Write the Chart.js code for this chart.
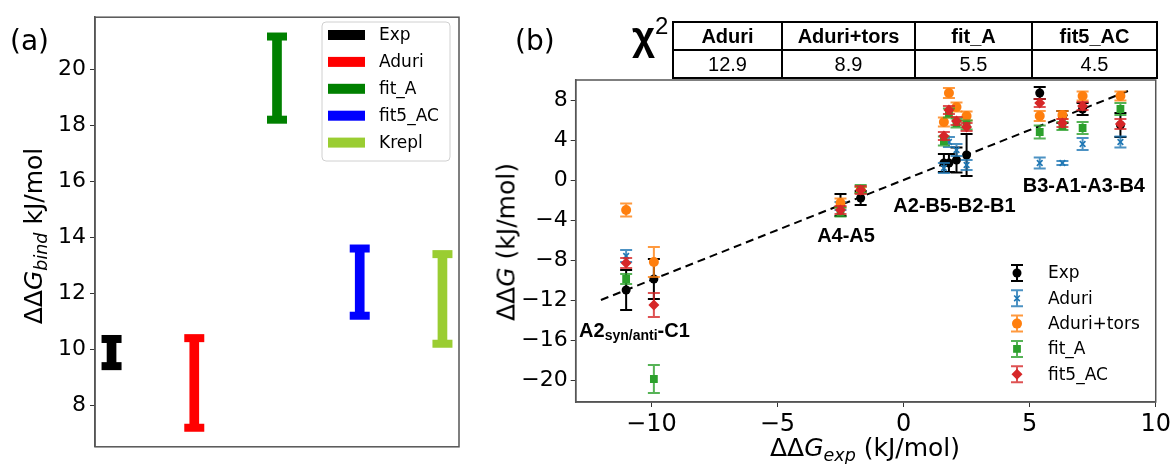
<!DOCTYPE html>
<html>
<head>
<meta charset="utf-8">
<script src="https://cdn.jsdelivr.net/npm/chart.js@4.4.1/dist/chart.umd.min.js"></script>
<style>
  body { margin: 0; background: #fff; }
  #wrap { position: relative; width: 1174px; height: 464px; overflow: hidden; font-family: 'DejaVu Sans', sans-serif; color: #000; }
  canvas { position: absolute; top: 0; }
  #chartA { left: 0; }
  #chartB { left: 480px; }
  .lbl { position: absolute; white-space: nowrap; }
  .panel { font-size: 28px; line-height: 28px; }
  .ytitle { transform: translate(-50%, -50%) rotate(-90deg); font-size: 25px; line-height: 25px; }
  .xtitle { transform: translate(-50%, -50%); font-size: 25px; line-height: 25px; }
  .sub { font-size: 0.7em; font-style: italic; position: relative; top: 0.3em; }
  #chi { left: 632px; top: 14px; font: bold 40px 'Liberation Sans', Arial, sans-serif; }
  #chi sup { font-size: 0.6em; font-weight: normal; position: relative; top: -0.1em; }
  #chiTable { position: absolute; left: 672px; top: 21px; border-collapse: collapse;
    font-family: 'Liberation Sans', Arial, sans-serif; font-size: 20px; }
  #chiTable td { border: 2px solid #000; text-align: center; padding: 0; height: 26px; line-height: 26px; }
  #chiTable tr:first-child td { font-weight: bold; }
</style>
</head>
<body>
<div id="wrap">
  <canvas id="chartA" width="480" height="464"></canvas>
  <canvas id="chartB" width="694" height="464"></canvas>
  <div class="lbl panel" style="left:10px; top:27px;">(a)</div>
  <div class="lbl panel" style="left:515px; top:27px;">(b)</div>
  <div class="lbl ytitle" style="left:35px; top:236px;">ΔΔ<i>G</i><span class="sub">bind</span> kJ/mol</div>
  <div class="lbl ytitle" style="left:506px; top:242px;">ΔΔ<i>G</i> (kJ/mol)</div>
  <div class="lbl xtitle" style="left:865px; top:449px;">ΔΔ<i>G</i><span class="sub">exp</span> (kJ/mol)</div>
  <div class="lbl" id="chi">χ<sup>2</sup></div>
  <table id="chiTable"><tr id="chiHead"></tr><tr id="chiVals"></tr></table>
</div>
<script>
// panel (a): range of binding free energy per method
const methodsA = ['Exp', 'Aduri', 'fit_A', 'fit5_AC', 'Krepl'];
const lowA = [9.4, 7.2, 18.2, 11.2, 10.2];
const highA = [10.37, 10.4, 21.17, 13.6, 13.4];
const yTicksA = [8, 10, 12, 14, 16, 18, 20];

// panel (b): computed vs experimental ddG
const seriesB = ['Exp', 'Aduri', 'Aduri+tors', 'fit_A', 'fit5_AC'];
const ddgExp = [-11.0, -9.9, -2.5, -1.7, 1.6, 1.8, 2.1, 2.5, 5.4, 6.3, 7.1, 8.6];
const expY = [-11.0, -9.9, -2.5, -1.8, 1.7, 1.7, 2.0, 2.5, 8.7, 6.3, 7.1, 5.5];
const expErr = [2.0, 2.0, 1.1, 0.7, 0.9, 0.9, 1.25, 2.1, 0.6, 0.6, 0.6, 1.2];
const aduriY = [-7.6, null, -2.6, -1.0, 1.2, 3.8, 3.0, 1.5, 1.7, 1.7, 3.6, 3.8];
const aduriErr = [0.6, 0, 0.4, 0.3, 0.5, 0.5, 0.6, 0.5, 0.55, 0.2, 0.6, 0.55];
const torsY = [-3.0, -8.2, -2.3, -1.0, 5.8, 8.7, 7.3, 6.4, 6.4, 6.5, 8.4, 8.4];
const torsErr = [0.65, 1.5, 0.45, 0.3, 0.45, 0.5, 0.45, 0.45, 0.5, 0.4, 0.45, 0.45];
const fitAY = [-9.9, -19.9, -3.2, -0.9, 3.9, 6.7, 5.7, 5.5, 4.8, 5.4, 5.2, 7.1];
const fitAErr = [0.5, 1.4, 0.45, 0.4, 0.45, 0.45, 0.45, 0.45, 0.65, 0.4, 0.6, 0.6];
const fit5Y = [-8.3, -12.5, -3.0, -1.0, 4.4, 7.0, 5.9, 5.3, 7.7, 5.7, 7.4, 5.6];
const fit5Err = [0.5, 1.2, 0.4, 0.4, 0.4, 0.4, 0.4, 0.4, 0.4, 0.4, 0.4, 0.5];
const lineX = [-12, 9];
const lineY = [-12, 9];
const xTicksB = [-10, -5, 0, 5, 10];
const yTicksB = [-20, -16, -12, -8, -4, 0, 4, 8];

const chi2Names = ['Aduri', 'Aduri+tors', 'fit_A', 'fit5_AC'];
const chi2Values = [12.9, 8.9, 5.5, 4.5];

// chi2 table
const colW = [107, 131, 115, 123];
chi2Names.forEach((n, i) => {
  const th = document.createElement('td');
  th.textContent = n; th.style.width = colW[i] + 'px';
  document.getElementById('chiHead').appendChild(th);
  const td = document.createElement('td');
  td.textContent = chi2Values[i].toFixed(1);
  document.getElementById('chiVals').appendChild(td);
});

const fmt = v => (v < 0 ? '\u2212' + Math.abs(v) : String(v));
const FONT = "'DejaVu Sans', sans-serif";

// box around the plot area
const frame = {
  id: 'frame',
  afterDraw(chart) {
    const { ctx, chartArea: a } = chart;
    ctx.save();
    ctx.strokeStyle = '#555';
    ctx.lineWidth = 1.5;
    ctx.strokeRect(a.left, a.top, a.right - a.left, a.bottom - a.top);
    ctx.restore();
  }
};

// caps on the thick range bars of panel (a)
const capsA = {
  id: 'capsA',
  afterDatasetsDraw(chart) {
    const ctx = chart.ctx;
    chart.data.datasets.forEach((ds, i) => {
      chart.getDatasetMeta(i).data.forEach(bar => {
        ctx.fillStyle = ds.backgroundColor;
        ctx.fillRect(bar.x - 10, bar.y - 4, 20, 8);
        ctx.fillRect(bar.x - 10, bar.base - 4, 20, 8);
      });
    });
  }
};

const legendA = {
  id: 'legendA',
  afterDraw(chart) {
    const ctx = chart.ctx;
    ctx.save();
    ctx.fillStyle = 'rgba(255,255,255,0.8)';
    ctx.strokeStyle = '#d0d0d0';
    ctx.lineWidth = 1;
    ctx.beginPath();
    ctx.roundRect(322, 22, 128, 139, 4);
    ctx.fill(); ctx.stroke();
    ctx.font = '17px ' + FONT;
    ctx.textBaseline = 'middle';
    chart.data.datasets.forEach((ds, i) => {
      const y = 35 + i * 26.9;
      ctx.fillStyle = ds.backgroundColor;
      ctx.fillRect(328, y - 5, 37, 10);
      ctx.fillStyle = '#000';
      ctx.fillText(ds.label, 379, y + 1);
    });
    ctx.restore();
  }
};

new Chart(document.getElementById('chartA'), {
  type: 'bar',
  data: {
    datasets: methodsA.map((m, i) => ({
      label: m,
      data: [{ x: i, y: [lowA[i], highA[i]] }],
      backgroundColor: ['#000000', '#ff0000', '#008000', '#0000ff', '#9acd32'][i],
      barThickness: 9,
      grouped: false
    }))
  },
  options: {
    responsive: false,
    animation: false,
    devicePixelRatio: 1,
    layout: { padding: { top: 13, right: 21, bottom: 6, left: 0 } },
    plugins: { legend: { display: false }, tooltip: { enabled: false } },
    scales: {
      x: { type: 'linear', min: -0.2, max: 4.2, offset: false, display: false },
      y: {
        min: 6.52, max: 21.86,
        afterBuildTicks: s => { s.ticks = yTicksA.map(v => ({ value: v })); },
        afterFit: s => { s.width = 95; },
        ticks: { color: '#000', padding: 4, font: { family: FONT, size: 22 }, callback: fmt },
        grid: { drawOnChartArea: false, tickLength: 5, color: '#333' },
        border: { color: '#555', width: 1.5 }
      }
    }
  },
  plugins: [capsA, frame, legendA]
});

// error bars drawn just before each dataset's markers
const errorBars = {
  id: 'errorBars',
  beforeDatasetDraw(chart, args) {
    const ds = chart.data.datasets[args.index];
    if (!ds.errors) return;
    const { ctx, scales: { x, y } } = chart;
    ctx.save();
    ctx.strokeStyle = ds.errColor;
    ctx.lineWidth = 2;
    ds.data.forEach((p, i) => {
      if (p.y == null) return;
      const px = x.getPixelForValue(p.x);
      const top = y.getPixelForValue(p.y + ds.errors[i]);
      const bot = y.getPixelForValue(p.y - ds.errors[i]);
      ctx.beginPath();
      ctx.moveTo(px, top); ctx.lineTo(px, bot);
      ctx.moveTo(px - 6, top); ctx.lineTo(px + 6, top);
      ctx.moveTo(px - 6, bot); ctx.lineTo(px + 6, bot);
      ctx.stroke();
    });
    ctx.restore();
  }
};

// bold group labels placed in data coordinates
const groupLabels = {
  id: 'groupLabels',
  afterDatasetsDraw(chart) {
    const { ctx, scales: { x, y } } = chart;
    const big = "bold 20px 'Liberation Sans', Arial, sans-serif";
    const small = "bold 14px 'Liberation Sans', Arial, sans-serif";
    ctx.save();
    ctx.fillStyle = '#000';
    ctx.textBaseline = 'middle';
    ctx.textAlign = 'center';
    ctx.font = big;
    [['A4-A5', -2.28, -5.67], ['A2-B5-B2-B1', 2.02, -2.67], ['B3-A1-A3-B4', 7.15, -0.67]]
      .forEach(([t, vx, vy]) => ctx.fillText(t, x.getPixelForValue(vx), y.getPixelForValue(vy)));
    // A2 syn/anti - C1 with subscript
    const parts = [['A2', big, 0], ['syn/anti', small, 4], ['-C1', big, 0]];
    let w = 0;
    parts.forEach(p => { ctx.font = p[1]; w += ctx.measureText(p[0]).width; });
    let cx = x.getPixelForValue(-10.67) - w / 2;
    const cy = y.getPixelForValue(-15.17);
    ctx.textAlign = 'left';
    parts.forEach(p => {
      ctx.font = p[1];
      ctx.fillText(p[0], cx, cy + p[2]);
      cx += ctx.measureText(p[0]).width;
    });
    ctx.restore();
  }
};

const legendB = {
  id: 'legendB',
  afterDraw(chart) {
    const ctx = chart.ctx;
    ctx.save();
    ctx.font = '17px ' + FONT;
    ctx.textBaseline = 'middle';
    chart.data.datasets.filter(ds => ds.errors).forEach((ds, i) => {
      const x0 = 537, y0 = 273 + i * 25.3;
      ctx.strokeStyle = ds.errColor;
      ctx.lineWidth = 2;
      ctx.beginPath();
      ctx.moveTo(x0, y0 - 8); ctx.lineTo(x0, y0 + 8);
      ctx.moveTo(x0 - 6, y0 - 8); ctx.lineTo(x0 + 6, y0 - 8);
      ctx.moveTo(x0 - 6, y0 + 8); ctx.lineTo(x0 + 6, y0 + 8);
      ctx.stroke();
      ctx.fillStyle = ds.backgroundColor;
      ctx.strokeStyle = ds.borderColor;
      ctx.lineWidth = ds.borderWidth;
      Chart.helpers.drawPoint(ctx, { pointStyle: ds.pointStyle, radius: ds.pointRadius, rotation: 0, borderWidth: ds.borderWidth }, x0, y0);
      ctx.fillStyle = '#000';
      ctx.fillText(ds.label, 568, y0 + 1);
    });
    ctx.restore();
  }
};

const pts = ys => ddgExp.map((x, i) => ({ x: x, y: ys[i] }));
const series = (label, ys, errs, color, errColor, style, r, bw) => ({
  type: 'scatter', label: label, data: pts(ys), errors: errs, errColor: errColor,
  pointStyle: style, pointRadius: r, backgroundColor: color, borderColor: color, borderWidth: bw
});

new Chart(document.getElementById('chartB'), {
  type: 'scatter',
  data: {
    datasets: [
      {
        type: 'line', label: 'fit', data: lineX.map((v, i) => ({ x: v, y: lineY[i] })),
        borderColor: '#000', borderWidth: 2, borderDash: [8, 5], pointRadius: 0, order: 6
      },
      Object.assign(series(seriesB[0], expY, expErr, '#000', '#000', 'circle', 4.5, 0), { order: 5 }),
      Object.assign(series(seriesB[1], aduriY, aduriErr, '#1f77b4', 'rgba(31,119,180,0.8)', 'crossRot', 4, 1.6), { order: 4 }),
      Object.assign(series(seriesB[2], torsY, torsErr, '#ff7f0e', 'rgba(255,127,14,0.8)', 'circle', 5, 0), { order: 3 }),
      Object.assign(series(seriesB[3], fitAY, fitAErr, '#2ca02c', 'rgba(44,160,44,0.8)', 'rect', 5.5, 0), { order: 2 }),
      Object.assign(series(seriesB[4], fit5Y, fit5Err, '#d62728', 'rgba(214,39,40,0.8)', 'rectRot', 5.5, 0), { order: 1 })
    ]
  },
  options: {
    responsive: false,
    animation: false,
    devicePixelRatio: 1,
    layout: { padding: { top: 80, right: 16, bottom: 0, left: 0 } },
    plugins: { legend: { display: false }, tooltip: { enabled: false } },
    scales: {
      x: {
        type: 'linear', min: -13, max: 10,
        afterBuildTicks: s => { s.ticks = xTicksB.map(v => ({ value: v })); },
        afterFit: s => { s.height = 62; },
        ticks: { color: '#000', padding: 3, maxRotation: 0, font: { family: FONT, size: 24 }, callback: fmt },
        grid: { drawOnChartArea: false, tickLength: 5, color: '#333' },
        border: { color: '#555', width: 1.5 }
      },
      y: {
        min: -22.2, max: 10,
        afterBuildTicks: s => { s.ticks = yTicksB.map(v => ({ value: v })); },
        afterFit: s => { s.width = 95.7; },
        ticks: { color: '#000', padding: 3, font: { family: FONT, size: 22 }, callback: fmt },
        grid: { drawOnChartArea: false, tickLength: 5, color: '#333' },
        border: { color: '#555', width: 1.5 }
      }
    }
  },
  plugins: [errorBars, groupLabels, frame, legendB]
});
</script>
</body>
</html>
